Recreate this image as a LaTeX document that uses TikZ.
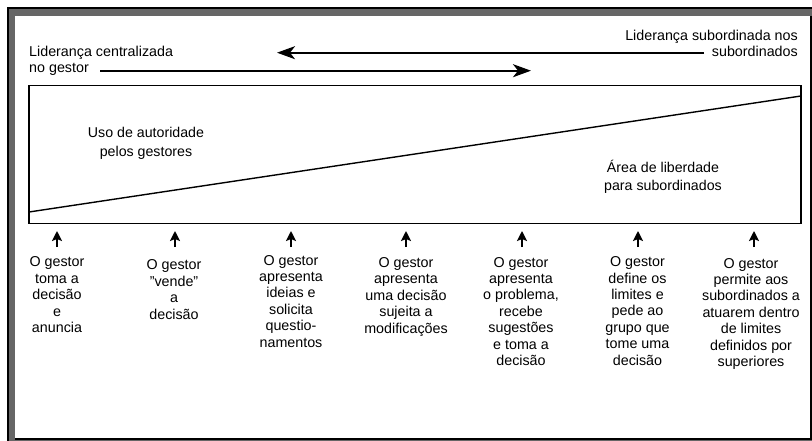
\documentclass[tikz,border=0pt]{standalone}
\usepackage{fontspec}
\setmainfont{Liberation Sans}
\usetikzlibrary{arrows.meta}
\definecolor{bandgray}{gray}{0.4}
\begin{document}
\begin{tikzpicture}[x=1pt,y=-1pt,
  txt/.style={inner sep=0pt, font=\fontsize{14.3}{16.4}\selectfont, align=center, anchor=base},
  inner/.style={inner sep=0pt, font=\fontsize{14.2}{18.7}\selectfont, align=center, anchor=base},
  boxline/.style={line width=1.4pt},
  bigarrow/.style={line width=2pt, -{Stealth[length=18pt,width=13pt,inset=5pt]}},
  tick/.style={line width=2.2pt, -{Stealth[length=10pt,width=10pt,inset=2pt]}}]
\useasboundingbox (0,0) rectangle (812,441);
% window frame with grey band on top and left
\fill[white] (0,0) rectangle (812,441);
\fill[bandgray] (8,8) rectangle (812,441);
\fill[white] (15,16) rectangle (810,437.5);
\draw[line width=2pt] (8,441) -- (8,8) -- (812,8);
\draw[line width=2pt] (811,16) -- (811,438.5) -- (15,438.5);

% headings (anchored at the baseline of their last line)
\node[txt, anchor=base west, align=left] (central) at (29,72.5) {Liderança centralizada\\no gestor};
\node[txt, anchor=base east, align=right] (subord) at (798,57) {Liderança subordinada nos\\subordinados};

% direction arrows
\coordinate (upR) at (704,52.7);
\coordinate (upL) at (277,52.7);
\coordinate (loL) at (100,70.7);
\coordinate (loR) at (531,70.7);
\draw[bigarrow] (upR) -- (upL);
\draw[bigarrow] (loL) -- (loR);

% authority / freedom box
\coordinate (bTL) at (29,85.5);
\coordinate (bBR) at (801,223.5);
\coordinate (dL) at (29,212);
\coordinate (dR) at (801,96);
\draw[boxline] (bTL) rectangle (bBR);
\draw[boxline] (dL) -- (dR);
\node[inner] (auth) at (146,156.5) {Uso de autoridade\\pelos gestores};
\node[inner] (free) at (663,191) {Área de liberdade\\para subordinados};

% behaviour markers
\foreach \i/\x in {1/57,2/175,3/291,4/406,5/522,6/638,7/754}{
  \coordinate (t\i) at (\x,247);
  \coordinate (h\i) at (\x,231);
  \draw[tick] (t\i) -- (h\i);
}

% descriptions (anchored at the baseline of their last line)
\node[txt] (c1) at (57,332.5) {O gestor\\toma a\\decisão\\e\\anuncia};
\node[txt] (c2) at (174,319) {O gestor\\\char34 vende\char34\\a\\decisão};
\node[txt] (c3) at (291,347) {O gestor\\apresenta\\ideias e\\solicita\\questio-\\namentos};
\node[txt] (c4) at (406,333) {O gestor\\apresenta\\uma decisão\\sujeita a\\modificações};
\node[txt] (c5) at (521,365.5) {O gestor\\apresenta\\o problema,\\recebe\\sugestões\\e toma a\\decisão};
\node[txt] (c6) at (637.5,365) {O gestor\\define os\\limites e\\pede ao\\grupo que\\tome uma\\decisão};
\node[txt] (c7) at (751,366.5) {O gestor\\permite aos\\subordinados a\\atuarem dentro\\de limites\\definidos por\\superiores};
\end{tikzpicture}
\end{document}
